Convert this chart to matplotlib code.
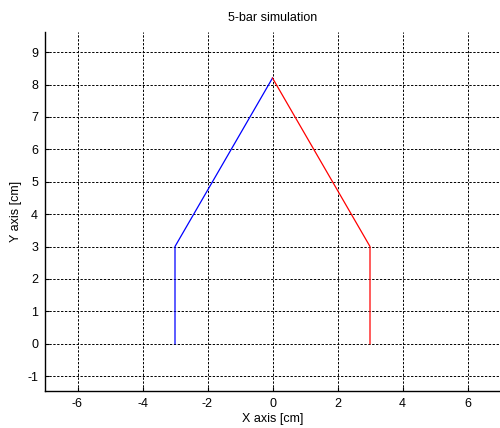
import matplotlib
matplotlib.use("Agg")
import matplotlib.pyplot as plt

# linkage joint coordinates [cm]
left_x = [-3, -3, 0]
left_y = [0, 3, 8.2]
right_x = [0, 3, 3]
right_y = [8.2, 3, 0]

xticks = [-6, -4, -2, 0, 2, 4, 6]
yticks = [-1, 0, 1, 2, 3, 4, 5, 6, 7, 8, 9]

plt.rcParams['font.family'] = ['Liberation Sans', 'DejaVu Sans']
plt.rcParams['font.size'] = 9
plt.rcParams['axes.unicode_minus'] = False

fig = plt.figure(figsize=(5.0, 4.28), dpi=100)
ax = fig.add_axes([0.09, 0.0864, 0.91, 0.8388])

ax.plot(left_x, left_y, color=(0, 0, 1), linewidth=0.9)
ax.plot(right_x, right_y, color=(1, 0, 0), linewidth=0.9)

ax.set_xlim(-7, 7)
ax.set_ylim(-1.46, 9.62)
ax.set_xticks(xticks)
ax.set_yticks(yticks)
ax.grid(True, color='black', linestyle=(0, (2.4, 1.6)), linewidth=0.7)
ax.tick_params(direction='in', length=3, width=0.8, colors='black', labelsize=9, pad=5)

for side in ['top', 'right']:
    ax.spines[side].set_visible(False)
for side in ['left', 'bottom']:
    ax.spines[side].set_linewidth(1.0)

ax.set_title('5-bar simulation', fontsize=9, pad=8)
ax.set_xlabel('X axis [cm]', fontsize=9, labelpad=2)
ax.set_ylabel('Y axis [cm]', fontsize=9, labelpad=4)

fig.savefig('out.png', dpi=100)
